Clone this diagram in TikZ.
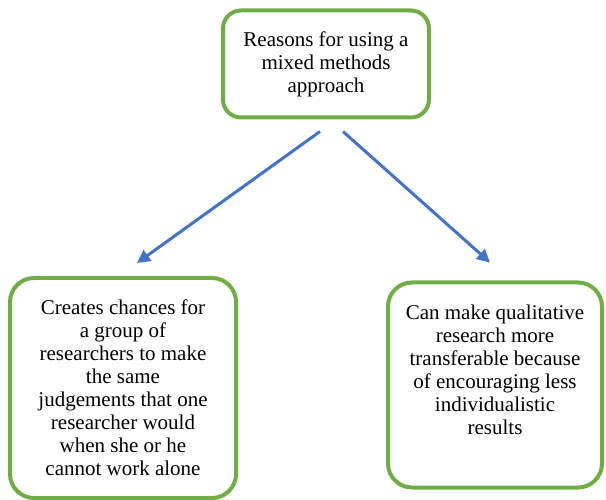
\documentclass[tikz,border=0pt]{standalone}
\usepackage{fontspec}
\setmainfont{Liberation Serif}
\usepackage{tikz}
\usetikzlibrary{arrows.meta,positioning}
\definecolor{boxgreen}{RGB}{112,173,71}
\definecolor{arrblue}{RGB}{68,114,196}

\begin{document}
\begin{tikzpicture}[x=1pt, y=-1pt,
  box/.style={draw=boxgreen, line width=4pt, rounded corners=24pt, fill=white, align=center, font=\rmfamily\fontsize{21}{23}\selectfont},
  arr/.style={-{Triangle[length=13pt,width=13pt]}, draw=arrblue, line width=3pt}
]
\useasboundingbox (0,0) rectangle (606,500);
\node[box, rounded corners=18pt, minimum width=206pt, minimum height=107pt] (reasons) at (326,64) {Reasons for using a\\mixed methods\\approach};
\node[box, minimum width=226pt, minimum height=220pt] (chances) at (123,388) {Creates chances for\\a group of\\researchers to make\\the same\\judgements that one\\researcher would\\when she or he\\cannot work alone};
\node[box, minimum width=214pt, minimum height=205pt] (transfer) at (495,385) {Can make qualitative\\research more\\transferable because\\of encouraging less\\individualistic\\results\\[8pt]\mbox{}};
\draw[arr] ([xshift=-6pt, yshift=-12pt]reasons.south) -- ([xshift=14pt, yshift=13pt]chances.north);
\draw[arr] ([xshift=17pt, yshift=-12pt]reasons.south) -- ([xshift=-5pt, yshift=18pt]transfer.north);
\end{tikzpicture}
\end{document}
